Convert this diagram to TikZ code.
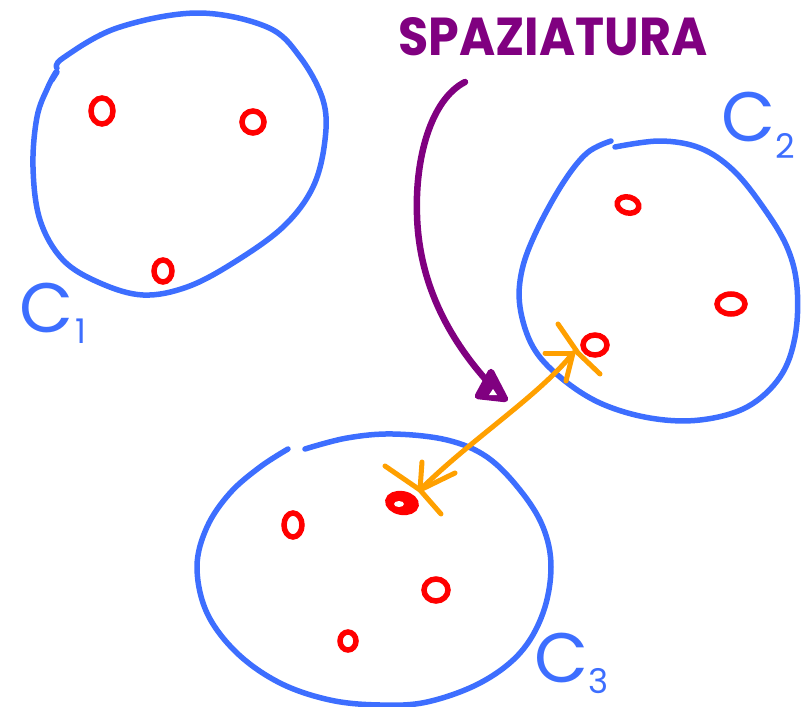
\documentclass[tikz,border=0pt]{standalone}
\usepackage{fontspec}
\setmainfont{Poppins}
\definecolor{cblue}{RGB}{61,110,255}
\definecolor{cred}{RGB}{255,0,0}
\definecolor{corange}{RGB}{255,160,0}
\definecolor{cpurple}{RGB}{128,0,128}
\tikzset{
  blob/.style={draw=cblue, line width=5.5pt, line cap=round, line join=round},
  dotring/.style={draw=cred, line width=5.5pt},
  orangeln/.style={draw=corange, line width=5pt, line cap=round, line join=round},
  purpleln/.style={draw=cpurple, line width=6.5pt, line cap=round, line join=round},
  lbl/.style={text=cblue, inner sep=0pt, anchor=base west, font=\fontsize{70}{70}\selectfont},
}
\newcommand{\subdig}[2]{\raisebox{-#1pt}{\fontsize{34}{34}\selectfont #2}}
\begin{document}
\begin{tikzpicture}[x=1pt, y=-1pt]
\useasboundingbox (0,0) rectangle (807,707);

% cluster C1
\draw[blob] plot[smooth, tension=0.6] coordinates {(57,68) (63,58) (117,28) (197,13) (267,27) (300,57) (323,100) (325,140) (313,187) (283,227) (233,263) (187,287) (143,295) (100,283) (63,260) (40,220) (33,167) (37,117) (48,87) (56,72)};
\draw[blob] (52,80) -- (57,72);
% cluster C2
\draw[blob] plot[smooth, tension=0.6] coordinates {(615,147) (660,141) (700,148) (733,170) (763,207) (787,247) (797,287) (795,337) (780,377) (747,407) (700,420) (650,418) (600,403) (560,377) (533,347) (520,307) (522,270) (537,230) (563,183) (587,153) (611,141)};
% cluster C3
\draw[blob] plot[smooth, tension=0.6] coordinates {(305,449) (347,438) (393,434) (447,440) (487,457) (520,490) (543,527) (551,567) (543,613) (520,653) (480,683) (427,702) (380,705) (330,700) (280,683) (237,653) (207,613) (197,567) (207,527) (230,493) (260,467) (288,449)};

% labels
\node[lbl] (c1) at (19,332) {C\hspace{2pt}\subdig{11}{1}};
\node[lbl] (c2) at (721,141) {C\subdig{17}{2}};
\node[lbl] (c3) at (534,682) {C\subdig{11}{3}};

% points
\draw[dotring] (102,111) ellipse[x radius=11, y radius=13];
\draw[dotring] (253,122) ellipse[x radius=11, y radius=11];
\draw[dotring] (163,271) ellipse[x radius=9, y radius=11];
\draw[dotring] (628,205) ellipse[x radius=11, y radius=8, rotate=-15];
\draw[dotring] (731,304) ellipse[x radius=14, y radius=10];
\draw[dotring] (595,345) ellipse[x radius=12, y radius=10];
\draw[dotring] (293,525) ellipse[x radius=9, y radius=12];
\draw[dotring, fill=cred, line width=6pt] (402,503) ellipse[x radius=14, y radius=9, rotate=-10];
\fill[white] (399,504) ellipse[x radius=5, y radius=3];
\draw[dotring] (436,590) ellipse[x radius=12, y radius=11];
\draw[dotring] (348,641) ellipse[x radius=8, y radius=9];

% spacing label and arrow
\node[text=cpurple, inner sep=0pt, font=\bfseries] (spaz) at (553,37) {\resizebox{309pt}{38pt}{SPAZIATURA}};
\coordinate (pS) at (465,82);
\coordinate (pM) at (417,215);
\coordinate (pE) at (487,381);
\draw[purpleln] (pS) .. controls (430,100) and (415,160) .. (pM) .. controls (419,290) and (455,345) .. (pE);
\filldraw[purpleln, fill=cpurple] (491,372) -- (478,396) -- (505,399) -- cycle;
\fill[white] (493,389) -- (489,395) -- (497,395) -- cycle;

% orange double arrow
\coordinate (oA) at (420,490);
\coordinate (oB) at (573,353);
\draw[orangeln] (oA) .. controls (470,440) and (540,395) .. (oB);
\draw[orangeln] (oB) -- (545,353);
\draw[orangeln] (oB) -- (566,381);
\draw[orangeln] (558,324) -- (578,353) -- (600,374);
\draw[orangeln] (oA) -- (422,462);
\draw[orangeln] (oA) -- (455,473);
\draw[orangeln] (385,466) -- (420,490) -- (441,514);
\end{tikzpicture}
\end{document}
